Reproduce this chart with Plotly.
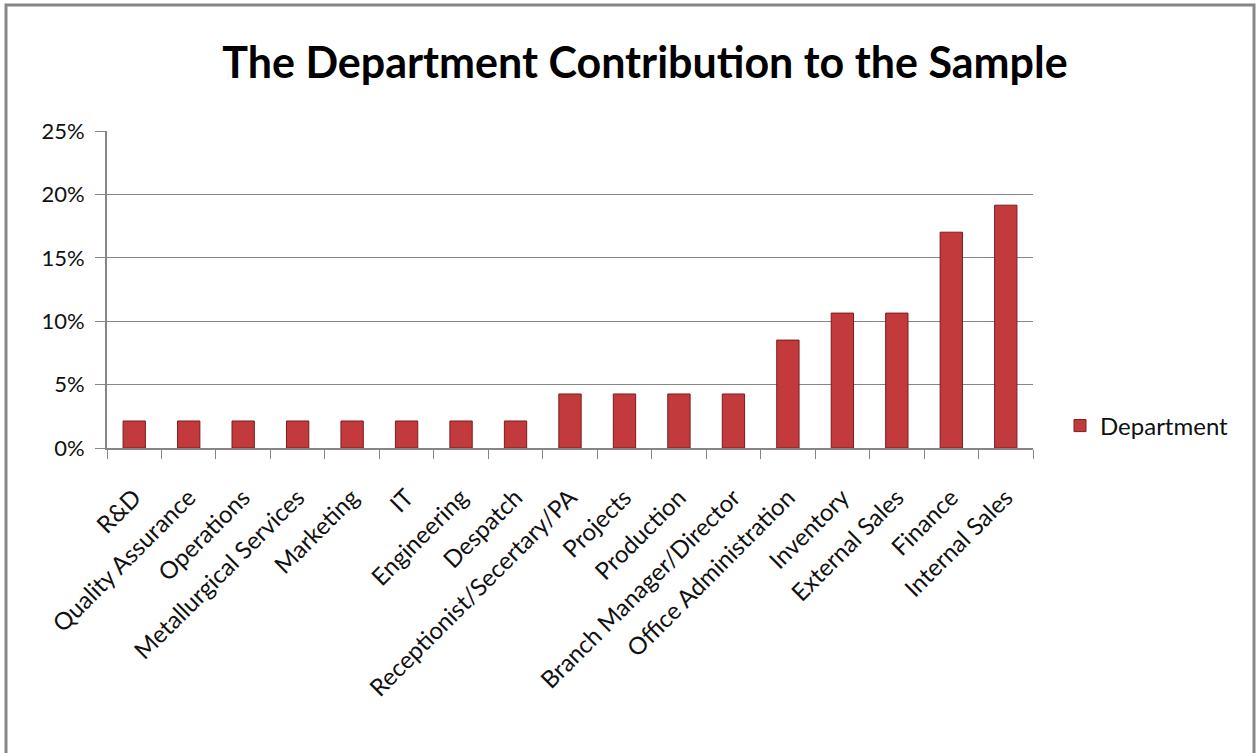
import plotly.graph_objects as go

departments = [
    "R&D", "Quality Assurance", "Operations", "Metallurgical Services",
    "Marketing", "IT", "Engineering", "Despatch",
    "Receptionist/Secertary/PA", "Projects", "Production",
    "Branch Manager/Director", "Office Administration", "Inventory",
    "External Sales", "Finance", "Internal Sales",
]
share = [
    0.0213, 0.0213, 0.0213, 0.0213, 0.0213, 0.0213, 0.0213, 0.0213,
    0.0426, 0.0426, 0.0426, 0.0426,
    0.0851, 0.1064, 0.1064, 0.1702, 0.1915,
]
y_ticks = [0, 0.05, 0.10, 0.15, 0.20, 0.25]
y_tick_text = ["0%", "5%", "10%", "15%", "20%", "25%"]

W, H = 1256, 753
ML, MR, MT, MB = 107, 223, 131, 305
GRAY = "#868686"
FONT = "Lato"

fig = go.Figure()
fig.add_trace(go.Bar(
    x=departments, y=share, name="Department", width=0.41,
    marker=dict(color="#C23A3C", line=dict(color="#7A1C1E", width=1)),
    showlegend=True,
))

fig.update_layout(
    width=W, height=H,
    margin=dict(l=ML, r=MR, t=MT, b=MB, pad=0),
    paper_bgcolor="white", plot_bgcolor="white",
    font=dict(family=FONT, color="#111"),
    title=dict(
        text="<b>The Department Contribution to the Sample</b>",
        font=dict(family=FONT, size=43, color="#000"),
        xref="container", yref="container",
        x=645 / W, y=1 - 63 / H, xanchor="center", yanchor="middle",
    ),
    xaxis=dict(
        type="category", tickson="boundaries", showgrid=False,
        ticks="outside", ticklen=9, tickcolor=GRAY, tickwidth=1,
        showline=True, linecolor=GRAY, linewidth=2,
        tickangle=-45, tickfont=dict(family=FONT, size=24, color="#111"),
        ticklabelstandoff=24,
    ),
    yaxis=dict(
        range=[0, 0.25], tickvals=y_ticks, ticktext=y_tick_text,
        showgrid=True, gridcolor=GRAY, gridwidth=1,
        ticks="outside", ticklen=10, tickcolor=GRAY, tickwidth=1,
        showline=True, linecolor=GRAY, linewidth=2, zeroline=False,
        tickfont=dict(family=FONT, size=22, color="#111"),
        ticklabelstandoff=6,
    ),
    legend=dict(
        x=(1060 - ML) / (W - ML - MR), y=(448 - 426) / (753 - MT - MB),
        xanchor="left", yanchor="middle",
        font=dict(family=FONT, size=24, color="#111"),
        bgcolor="rgba(0,0,0,0)",
    ),
    bargap=0.5,
)

# outer chart border
fig.add_shape(
    type="rect", xref="paper", yref="paper",
    x0=(6 - ML) / (W - ML - MR), x1=(1254 - ML) / (W - ML - MR),
    y0=(448 - 770) / (753 - MT - MB), y1=(448 - 5) / (753 - MT - MB),
    line=dict(color=GRAY, width=3), layer="below",
)

fig.write_html("out.html")
